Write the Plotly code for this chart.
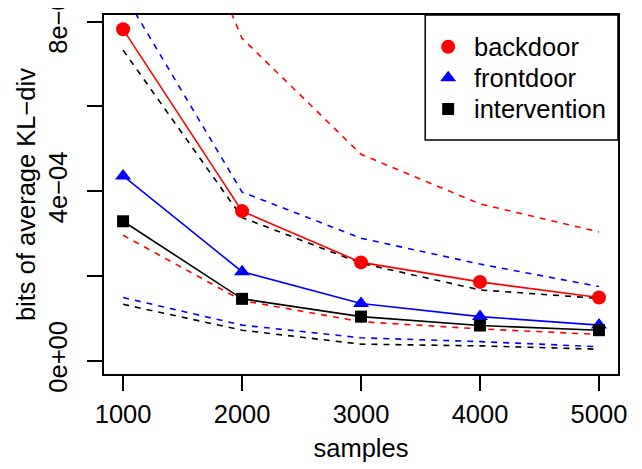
import plotly.graph_objects as go

samples = [1000, 2000, 3000, 4000, 5000]

backdoor_mean = [7.82e-4, 3.53e-4, 2.32e-4, 1.86e-4, 1.49e-4]
backdoor_upper = [14.2e-4, 7.61e-4, 4.87e-4, 3.70e-4, 3.04e-4]
backdoor_lower = [2.96e-4, 1.42e-4, 0.92e-4, 0.75e-4, 0.62e-4]

frontdoor_mean = [4.36e-4, 2.10e-4, 1.35e-4, 1.04e-4, 0.84e-4]
frontdoor_upper = [8.69e-4, 3.98e-4, 2.89e-4, 2.28e-4, 1.75e-4]
frontdoor_lower = [1.49e-4, 0.84e-4, 0.54e-4, 0.45e-4, 0.33e-4]

intervention_mean = [3.29e-4, 1.46e-4, 1.04e-4, 0.83e-4, 0.72e-4]
intervention_upper = [7.33e-4, 3.38e-4, 2.30e-4, 1.67e-4, 1.47e-4]
intervention_lower = [1.33e-4, 0.72e-4, 0.39e-4, 0.35e-4, 0.27e-4]

y_tick_vals = [0, 2e-4, 4e-4, 6e-4, 8e-4]
y_tick_text = ["0e+00", "", "4e\u221204", "", "8e\u221204"]
x_tick_vals = [1000, 2000, 3000, 4000, 5000]

x_title = "samples"
y_title = "bits of average KL\u2212div"
legend_names = ["backdoor", "frontdoor", "intervention"]

series = [
    ("backdoor", "#FF0000", "circle", 14, backdoor_mean, backdoor_upper, backdoor_lower),
    ("frontdoor", "#0000FF", "triangle-up", 14, frontdoor_mean, frontdoor_upper, frontdoor_lower),
    ("intervention", "#000000", "square", 12, intervention_mean, intervention_upper, intervention_lower),
]

FONT = "Liberation Sans, Arial, Helvetica, sans-serif"
FS = 25.5
fig = go.Figure()

# dashed bounds first
for name, col, sym, sz, mean, up, lo in series:
    for bound in (up, lo):
        fig.add_trace(go.Scatter(
            x=samples, y=bound, mode="lines", showlegend=False, hoverinfo="skip",
            line=dict(color=col, width=1.6, dash="6px,6px"),
        ))

# solid mean lines with markers
for name, col, sym, sz, mean, up, lo in series:
    fig.add_trace(go.Scatter(
        x=samples, y=mean, mode="lines+markers", showlegend=False, name=name,
        line=dict(color=col, width=1.6),
        marker=dict(symbol=sym, size=sz, color=col, line=dict(width=0)),
    ))

# legend (box, markers on an overlay axis in paper-like units, text)
leg_left, leg_right, leg_top, leg_bottom = 0.6249, 1.0, 1.0, 0.6518
leg_marker_x = 0.6696
leg_text_x = 0.7162
leg_rows = [0.9117, 0.8253, 0.7382]

fig.add_shape(type="rect", xref="paper", yref="paper",
              x0=leg_left, x1=leg_right, y0=leg_bottom, y1=leg_top,
              line=dict(color="black", width=1.5), layer="below")

for (name, col, sym, sz, *_), ry in zip(series, leg_rows):
    fig.add_trace(go.Scatter(
        x=[leg_marker_x], y=[ry], xaxis="x2", yaxis="y2", mode="markers",
        showlegend=False, hoverinfo="skip", name=name,
        marker=dict(symbol=sym, size=sz, color=col, line=dict(width=0)),
    ))
    fig.add_annotation(x=leg_text_x, y=ry, xref="paper", yref="paper",
                       text=name, showarrow=False, xanchor="left", yanchor="middle",
                       font=dict(size=FS, color="black"))

# y-axis title
fig.add_annotation(x=-0.1526, y=0.5, xref="paper", yref="paper", text=y_title,
                   textangle=-90, showarrow=False, xanchor="center", yanchor="middle",
                   font=dict(size=FS, color="black"))

fig.update_layout(
    width=642, height=469,
    margin=dict(l=95.5, r=32, t=7, b=103),
    paper_bgcolor="white", plot_bgcolor="white",
    font=dict(family=FONT, size=FS, color="black"),
    showlegend=False,
    xaxis=dict(
        range=[839.5, 5160], tickvals=x_tick_vals, ticks="outside", ticklen=15,
        tickwidth=1.5, tickcolor="black", showgrid=False, zeroline=False,
        showline=True, mirror=True, linecolor="black", linewidth=1.5,
        tickfont=dict(size=FS), automargin=False, ticklabelstandoff=2,
        title=dict(text=x_title, font=dict(size=FS), standoff=12),
    ),
    yaxis=dict(
        range=[-0.314e-4, 8.158e-4], tickvals=y_tick_vals, ticktext=y_tick_text,
        ticks="outside", ticklen=15, tickwidth=1.5, tickcolor="black",
        tickangle=-90, showgrid=False, zeroline=False, ticklabeloverflow="allow",
        ticklabelstandoff=10, automargin=False,
        showline=True, mirror=True, linecolor="black", linewidth=1.5,
        tickfont=dict(size=FS),
    ),
    xaxis2=dict(overlaying="x", range=[0, 1], visible=False, fixedrange=True),
    yaxis2=dict(overlaying="y", range=[0, 1], visible=False, fixedrange=True),
)

fig.write_html("out.html")
